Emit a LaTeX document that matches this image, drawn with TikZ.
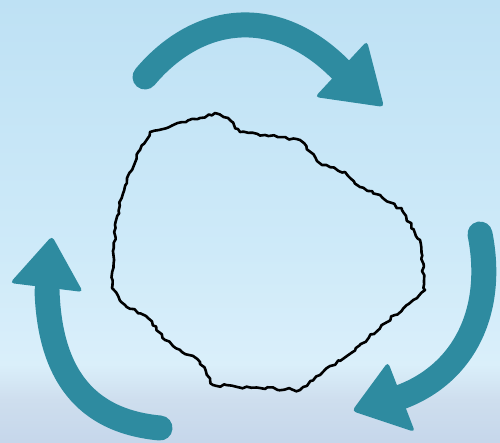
\documentclass[tikz,border=0pt]{standalone}
\usetikzlibrary{decorations.pathmorphing}
\definecolor{arrowteal}{RGB}{46,139,160}
\definecolor{skyA}{RGB}{190,225,244}
\definecolor{skyB}{RGB}{206,234,249}
\definecolor{skyC}{RGB}{218,239,250}
\definecolor{skyD}{RGB}{206,222,238}
\definecolor{skyE}{RGB}{198,215,235}
\begin{document}
\begin{tikzpicture}[x=1pt,y=-1pt,
  shaft/.style={draw=arrowteal,line width=25pt,line cap=round},
  head/.style={fill=arrowteal,rounded corners=4pt},
  blob/.style={draw=black,line width=2.6pt,line join=round,
    decoration={random steps,segment length=4pt,amplitude=1.5pt},decorate}]
\useasboundingbox (0,0) rectangle (500,442);
% sky background
\fill[top color=skyA,bottom color=skyB] (0,0) rectangle (500,250);
\fill[top color=skyB,bottom color=skyC] (0,249.5) rectangle (500,365);
\fill[top color=skyC,bottom color=skyD] (0,364.5) rectangle (500,400);
\fill[top color=skyD,bottom color=skyE] (0,399.5) rectangle (500,442);
% rough outline
\pgfmathsetseed{11}
\draw[blob] (150,132) -- (200,118) -- (215,113) -- (228,118) -- (240,132)
  -- (265,135) -- (300,140) -- (322,165) -- (345,172) -- (360,187)
  -- (380,195) -- (402,210) -- (420,240) -- (425,290) -- (395,315)
  -- (360,345) -- (320,375) -- (300,390) -- (260,388) -- (213,385)
  -- (200,362) -- (165,340) -- (148,318) -- (125,305) -- (112,288)
  -- (115,225) -- (127,178) -- (140,150) -- cycle;
% top arrow
\coordinate (t0) at (145,77);
\coordinate (t1) at (341,70);
\draw[shaft] (t0) .. controls (198,14) and (276,4) .. (t1);
\fill[head] (315,97) -- (367,41) -- (384,107) -- cycle;
% right arrow
\coordinate (r0) at (480,234);
\coordinate (r1) at (401,397);
\draw[shaft] (r0) .. controls (495,310) and (465,373) .. (r1);
\fill[head] (388,362) -- (415,432) -- (352,411) -- cycle;
% left arrow
\coordinate (l0) at (160,428);
\coordinate (l1) at (47,290);
\draw[shaft] (l0) .. controls (95,422) and (50,385) .. (l1);
\fill[head] (52,236) -- (83,292) -- (10,283) -- cycle;
\end{tikzpicture}
\end{document}
